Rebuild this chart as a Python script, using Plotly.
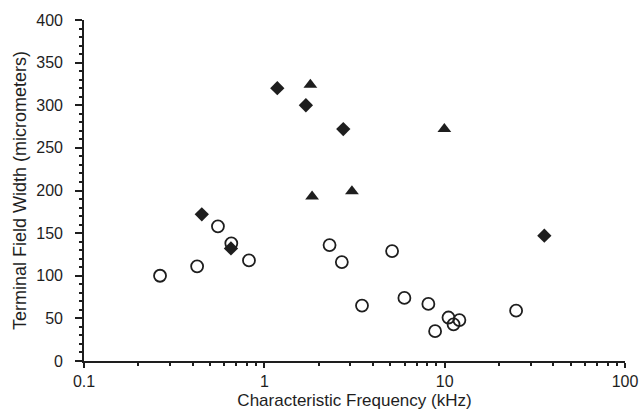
import plotly.graph_objects as go

# Open circles
circ_f = [0.264, 0.424, 0.553, 0.656, 0.822, 2.30, 2.69, 3.48, 5.11, 5.98, 8.12, 8.85, 10.5, 11.2, 12.07, 24.9]
circ_w = [100, 111, 158, 138, 118, 136, 116, 65, 129, 74, 67, 35, 51, 43, 48, 59]

# Filled diamonds
diam_f = [1.18, 1.70, 2.74, 0.45, 35.7, 0.653]
diam_w = [320, 300, 272, 172, 147, 132]

# Filled triangles
tri_f = [1.80, 9.96, 1.84, 3.06]
tri_w = [324, 272, 193, 199]

x_ticks = [0.1, 1, 10, 100]
x_ticktext = ["0.1", "1", "10", "100"]
x_minor = [m * d for d in [0.1, 1, 10] for m in range(2, 10)]
y_ticks = [0, 50, 100, 150, 200, 250, 300, 350, 400]

ink = "#1e1e1e"
fig = go.Figure()
fig.add_trace(go.Scatter(x=circ_f, y=circ_w, mode="markers",
                         marker=dict(symbol="circle-open", size=12, color=ink, line=dict(width=1.8))))
fig.add_trace(go.Scatter(x=diam_f, y=diam_w, mode="markers",
                         marker=dict(symbol="diamond", size=11, color=ink)))
fig.add_trace(go.Scatter(x=tri_f, y=tri_w, mode="markers",
                         marker=dict(symbol="triangle-up", size=12, color=ink)))

font = dict(family="Liberation Sans, Arial, sans-serif", size=16, color=ink)
fig.update_layout(
    width=640, height=410,
    margin=dict(l=84, r=15, t=20, b=49),
    paper_bgcolor="white", plot_bgcolor="white",
    showlegend=False,
    font=font,
    xaxis=dict(type="log", range=[-1, 2], tickvals=x_ticks, ticktext=x_ticktext,
               automargin=False,
               showgrid=False, zeroline=False, showline=True, linecolor=ink, linewidth=1.6,
               ticks="outside", ticklen=5, tickwidth=1.5, tickcolor=ink,
               minor=dict(tickvals=x_minor, ticks="outside", ticklen=3, tickcolor=ink, showgrid=False),
               title=dict(text="Characteristic Frequency (kHz)", standoff=5, font=dict(size=17)),
               tickfont=dict(size=16)),
    yaxis=dict(range=[0, 400], tickvals=y_ticks,
               automargin=False,
               showgrid=False, zeroline=False, showline=True, linecolor=ink, linewidth=1.6,
               ticks="outside", ticklen=7, tickwidth=1.5, tickcolor=ink,
               ticklabelstandoff=9,
               minor=dict(dtick=10, ticks="outside", ticklen=3, tickcolor=ink, showgrid=False),
               title=dict(text="Terminal Field Width (micrometers)", standoff=5, font=dict(size=18)),
               tickfont=dict(size=16)),
)
fig.write_html("out.html",
               config={"displayModeBar": False},
               post_script="document.body.style.margin='0';document.body.style.overflow='hidden';")
